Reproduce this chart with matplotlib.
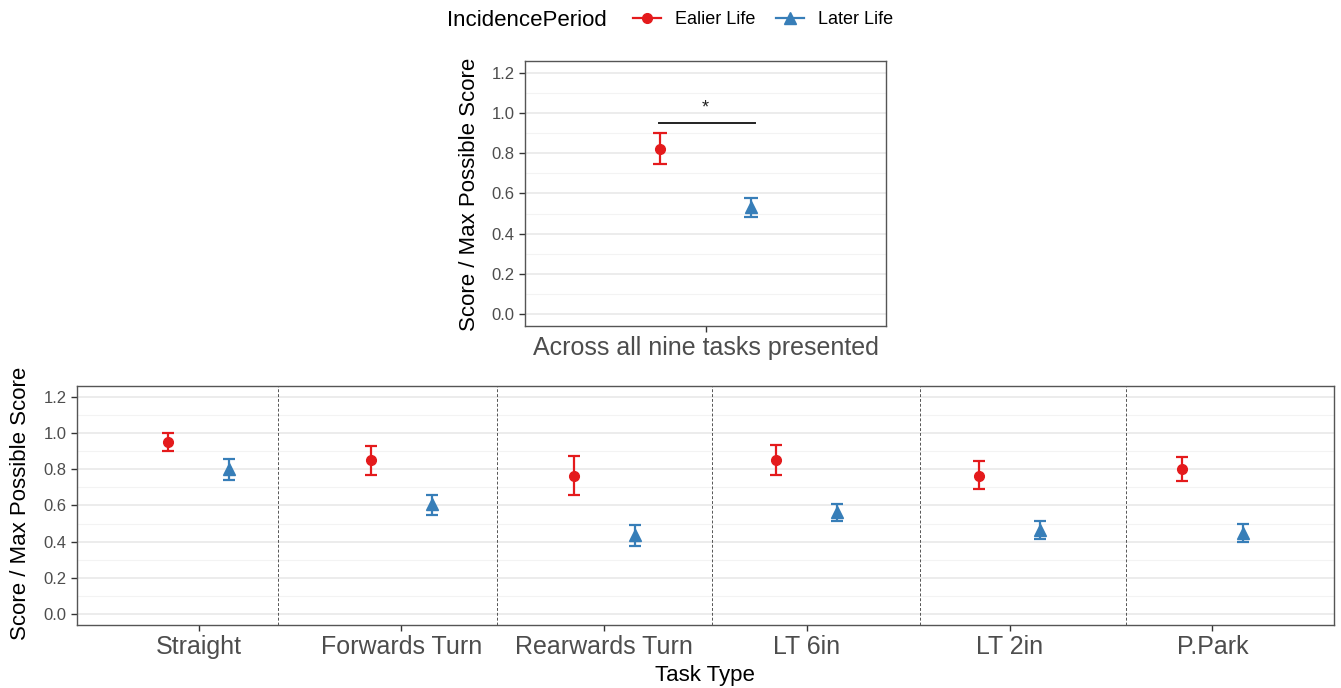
import numpy as np
import matplotlib
matplotlib.use('Agg')
import matplotlib.pyplot as plt
from matplotlib.lines import Line2D

plt.rcParams['font.family'] = ['Liberation Sans', 'DejaVu Sans']

# 1. data: proportion of max score (mean with lower / upper error limits)
tasks = ["Straight", "Forwards Turn", "Rearwards Turn", "LT 6in", "LT 2in", "P.Park"]
periods = ["Ealier Life", "Later Life"]

earlier_mean = [0.95, 0.85, 0.765, 0.85, 0.765, 0.80]
earlier_lo = [0.90, 0.77, 0.657, 0.77, 0.689, 0.736]
earlier_hi = [1.00, 0.926, 0.875, 0.933, 0.848, 0.866]

later_mean = [0.80, 0.61, 0.438, 0.566, 0.466, 0.448]
later_lo = [0.74, 0.55, 0.375, 0.515, 0.415, 0.40]
later_hi = [0.855, 0.66, 0.491, 0.606, 0.515, 0.499]

overall_label = "Across all nine tasks presented"
overall_mean = [0.82, 0.533]
overall_lo = [0.746, 0.484]
overall_hi = [0.90, 0.578]
sig_label = "*"

# task separators as drawn in the lower panel
dividers = [1.39, 2.47, 3.53, 4.56, 5.575]

colors = ['#E41A1C', '#377EB8']
markers = ['o', '^']
msizes = [7, 8]
dodge = 0.15
tick_col = '#4D4D4D'

fig = plt.figure(figsize=(13.41, 6.88), dpi=100)


def style_axes(ax):
    ax.set_ylim(-0.06, 1.26)
    ax.set_yticks(np.arange(0, 1.21, 0.2))
    ax.set_yticks(np.arange(0.1, 1.2, 0.2), minor=True)
    ax.yaxis.set_major_formatter(matplotlib.ticker.FormatStrFormatter('%.1f'))
    ax.grid(axis='y', which='major', color='#EBEBEB', linewidth=1.3)
    ax.grid(axis='y', which='minor', color='#F3F3F3', linewidth=0.8)
    ax.set_axisbelow(True)
    for s in ax.spines.values():
        s.set_color('#555555')
        s.set_linewidth(1.0)
    ax.tick_params(axis='y', which='major', labelsize=12, colors='#333333',
                   labelcolor=tick_col, length=4, width=1)
    ax.tick_params(axis='y', which='minor', length=0)
    ax.tick_params(axis='x', labelsize=18, colors='#333333',
                   labelcolor=tick_col, length=4, width=1)


def draw_group(ax, x, mean, lo, hi, i, capsize):
    mean = np.asarray(mean)
    err = [mean - np.asarray(lo), np.asarray(hi) - mean]
    ax.errorbar(x, mean, yerr=err, fmt=markers[i], color=colors[i],
                markersize=msizes[i], elinewidth=1.6, capsize=capsize,
                capthick=1.6, zorder=3)


# 2. top panel: overall score
ax1 = fig.add_axes([525 / 1341, 1 - 326 / 688, 361 / 1341, 265 / 688])
style_axes(ax1)
ax1.set_xlim(0.4, 1.6)
ax1.set_xticks([1])
ax1.set_xticklabels([overall_label])
draw_group(ax1, [1 - dodge], [overall_mean[0]], [overall_lo[0]], [overall_hi[0]], 0, 5)
draw_group(ax1, [1 + dodge], [overall_mean[1]], [overall_lo[1]], [overall_hi[1]], 1, 5)
ax1.plot([0.845, 1.165], [0.95, 0.95], color='#222222', linewidth=1.4)
ax1.text(1.0, 0.985, sig_label, ha='center', va='bottom', fontsize=13, color='#222222')

# 3. bottom panel: score per task type
ax2 = fig.add_axes([77 / 1341, 1 - 625 / 688, 1257 / 1341, 239 / 688])
style_axes(ax2)
xs = np.arange(1, len(tasks) + 1)
ax2.set_xlim(0.4, len(tasks) + 0.6)
ax2.set_xticks(xs)
ax2.set_xticklabels(tasks)
draw_group(ax2, xs - dodge, earlier_mean, earlier_lo, earlier_hi, 0, 4)
draw_group(ax2, xs + dodge, later_mean, later_lo, later_hi, 1, 4)
for d in dividers:
    ax2.axvline(d, color='#555555', linestyle=(0, (3, 2)), linewidth=0.7, zorder=2)

# 4. axis titles
fig.text(469 / 1341, 1 - 194 / 688, "Score / Max Possible Score", rotation=90,
         ha='center', va='center', fontsize=16)
fig.text(21 / 1341, 1 - 503 / 688, "Score / Max Possible Score", rotation=90,
         ha='center', va='center', fontsize=16)
fig.text(705 / 1341, 1 - 675 / 688, "Task Type", ha='center', va='center', fontsize=16)

# 5. legend on top
fig.text(447 / 1341, 1 - 20 / 688, "IncidencePeriod", ha='left', va='center', fontsize=16)
handles = [Line2D([], [], color=colors[i], marker=markers[i], markersize=msizes[i],
                  linewidth=1.6) for i in range(2)]
fig.legend(handles, periods, loc='center left', bbox_to_anchor=(633 / 1341, 1 - 20 / 688),
           ncol=2, frameon=False, fontsize=13, handlelength=1.55, handletextpad=0.8,
           columnspacing=1.1, borderpad=0, borderaxespad=0)

fig.savefig('out.png', dpi=100)
